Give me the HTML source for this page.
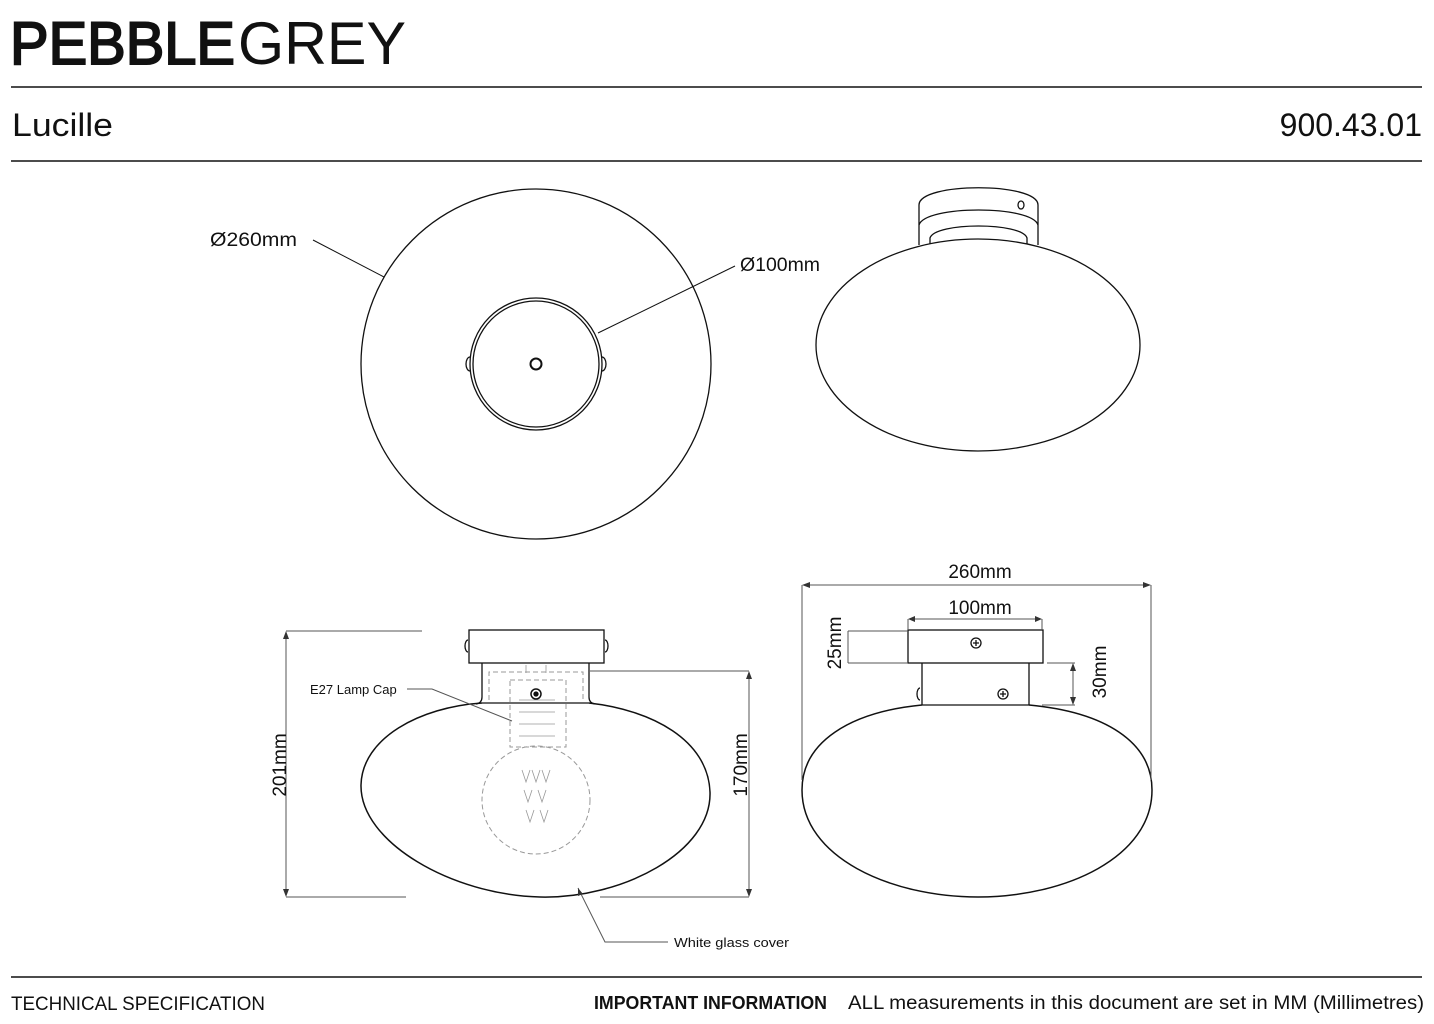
<!DOCTYPE html>
<html><head><meta charset="utf-8"><style>
body{margin:0;background:#fff;}
svg{display:block;}
text{font-family:"Liberation Sans",sans-serif;fill:#111;}
</style></head><body>
<svg width="1434" height="1024" viewBox="0 0 1434 1024" xmlns="http://www.w3.org/2000/svg">
<text x="10" y="64" font-size="60" stroke="#111" stroke-width="2" textLength="225" lengthAdjust="spacingAndGlyphs">PEBBLE</text>
<text x="238" y="64" font-size="60" textLength="168" lengthAdjust="spacingAndGlyphs">GREY</text>
<line x1="11" y1="87" x2="1422" y2="87" stroke="#111" stroke-width="1.5"/>
<text x="12" y="136" font-size="32" textLength="101" lengthAdjust="spacingAndGlyphs">Lucille</text>
<text x="1422" y="136" font-size="32" text-anchor="end">900.43.01</text>
<line x1="11" y1="161" x2="1422" y2="161" stroke="#111" stroke-width="1.5"/>

<g fill="none" stroke="#111" stroke-width="1.3">
<circle cx="536" cy="364" r="175"/>
<circle cx="536" cy="364" r="66"/>
<circle cx="536" cy="364" r="63"/>
<circle cx="536" cy="364" r="5.5" stroke-width="2"/>
<path d="M470,357 a4,7 0 0 0 0,14"/><path d="M602,357 a4,7 0 0 1 0,14"/>
<line x1="313" y1="240" x2="384" y2="277" stroke-width="1"/>
<line x1="735" y1="266" x2="598" y2="333" stroke-width="1"/>

<ellipse cx="978" cy="345" rx="162" ry="106"/>
<path d="M919,205 C919,182 1038,182 1038,205 L1038,245 M919,205 L919,245"/>
<path d="M919,225 C925,205 1032,205 1038,225"/>
<path d="M930,244 L930,238 C935,222 1022,222 1027,238 L1027,244"/>
<ellipse cx="1021" cy="205" rx="3" ry="4"/>

<rect x="469" y="630" width="135" height="33"/>
<path d="M468,640 a3,6 0 0 0 0,12 M605,640 a3,6 0 0 1 0,12"/>
<path d="M482,663 L482,697 Q482,703 476,704 M589,663 L589,697 Q589,703 595,704 M482,703 L589,703"/>
<path d="M482,703 C420,707 362,738 361,785 C360,842 452,895 540,897 C622,899 712,852 710,792 C708,740 652,710 589,703" stroke-width="1.5"/>
<g stroke="#999" stroke-width="1" stroke-dasharray="5,3">
<path d="M489,700 L489,672 L583,672 L583,700"/>
<rect x="510" y="680" width="56" height="67"/>
<circle cx="536" cy="800" r="54"/>
</g>
<g stroke="#999" stroke-width="0.8">
<path d="M519,700 h36 M519,712 h36 M519,724 h36 M519,736 h36 M526,665 v8 M546,665 v8"/>
<path d="M522,770 l4,12 l4,-12 M532,770 l4,12 l4,-12 M542,770 l4,12 l4,-12 M524,790 l4,12 l4,-12 M538,790 l4,12 l4,-12 M526,810 l4,12 l4,-12 M540,810 l4,12 l4,-12"/>
</g>
<circle cx="536" cy="694" r="5" stroke-width="1.5"/><circle cx="536" cy="694" r="2" fill="#111"/>
<g stroke="#555" stroke-width="1">
<line x1="286" y1="631" x2="422" y2="631"/><line x1="286" y1="897" x2="406" y2="897"/>
<line x1="286" y1="634" x2="286" y2="894"/>
<line x1="590" y1="671" x2="749" y2="671"/><line x1="600" y1="897" x2="749" y2="897"/>
<line x1="749" y1="674" x2="749" y2="894"/>
<polyline points="407,689 432,689 512,721"/>
<polyline points="578,888 605,942 668,942"/>
</g>
<g fill="#333" stroke="none">
<path d="M286,631 l-3,8 h6z M286,897 l-3,-8 h6z M749,671 l-3,8 h6z M749,897 l-3,-8 h6z M578,888 l0,8 l5,-2z"/>
</g>
</g>
<text x="310" y="694" font-size="13">E27 Lamp Cap</text>
<text x="674" y="947" font-size="13" textLength="115" lengthAdjust="spacingAndGlyphs">White glass cover</text>
<text transform="translate(286,765) rotate(-90)" font-size="19" text-anchor="middle">201mm</text>
<text transform="translate(747,765) rotate(-90)" font-size="19" text-anchor="middle">170mm</text>

<g fill="none" stroke="#111" stroke-width="1.3">
<rect x="908" y="630" width="135" height="33"/>
<path d="M922,663 L922,705 M1029,663 L1029,705 M922,705 L1029,705"/>
<path d="M920,688 a3,6 0 0 0 0,12"/>
<path d="M922,705 C850,712 802,742 802,790 C802,857 890,897 978,897 C1066,897 1152,857 1152,790 C1152,742 1105,712 1029,705" stroke-width="1.5"/>
<circle cx="976" cy="643" r="5"/><path d="M973,643h6M976,640v6"/>
<circle cx="1003" cy="694" r="5"/><path d="M1000,694h6M1003,691v6"/>
<g stroke="#555" stroke-width="1">
<line x1="802" y1="585" x2="802" y2="780"/><line x1="1151" y1="585" x2="1151" y2="780"/>
<line x1="805" y1="585" x2="1148" y2="585"/>
<line x1="908" y1="619" x2="908" y2="630"/><line x1="1042" y1="619" x2="1042" y2="630"/>
<line x1="911" y1="619" x2="1039" y2="619"/>
<line x1="848" y1="631" x2="908" y2="631"/><line x1="848" y1="663" x2="908" y2="663"/>
<line x1="848" y1="631" x2="848" y2="663"/>
<line x1="1047" y1="663" x2="1075" y2="663"/><line x1="1042" y1="705" x2="1075" y2="705"/>
<line x1="1073" y1="666" x2="1073" y2="702"/>
</g>
<g fill="#333" stroke="none">
<path d="M802,585 l8,-3 v6z M1151,585 l-8,-3 v6z M908,619 l7,-3 v6z M1042,619 l-7,-3 v6z M1073,663 l-3,8 h6z M1073,705 l-3,-8 h6z"/>
</g>
</g>
<text x="980" y="578" font-size="19" text-anchor="middle">260mm</text>
<text x="980" y="614" font-size="19" text-anchor="middle">100mm</text>
<text transform="translate(841,643) rotate(-90)" font-size="19" text-anchor="middle">25mm</text>
<text transform="translate(1106,672) rotate(-90)" font-size="19" text-anchor="middle">30mm</text>
<text x="210" y="246" font-size="19" textLength="87" lengthAdjust="spacingAndGlyphs">Ø260mm</text>
<text x="740" y="271" font-size="19" textLength="80" lengthAdjust="spacingAndGlyphs">Ø100mm</text>

<line x1="11" y1="977" x2="1422" y2="977" stroke="#111" stroke-width="1.5"/>
<text x="11" y="1010" font-size="19" textLength="254" lengthAdjust="spacingAndGlyphs">TECHNICAL SPECIFICATION</text>
<text x="594" y="1009" font-size="18" font-weight="bold" textLength="233" lengthAdjust="spacingAndGlyphs">IMPORTANT INFORMATION</text>
<text x="848" y="1009" font-size="19" textLength="576" lengthAdjust="spacingAndGlyphs">ALL measurements in this document are set in MM (Millimetres)</text>
</svg>
</body></html>
